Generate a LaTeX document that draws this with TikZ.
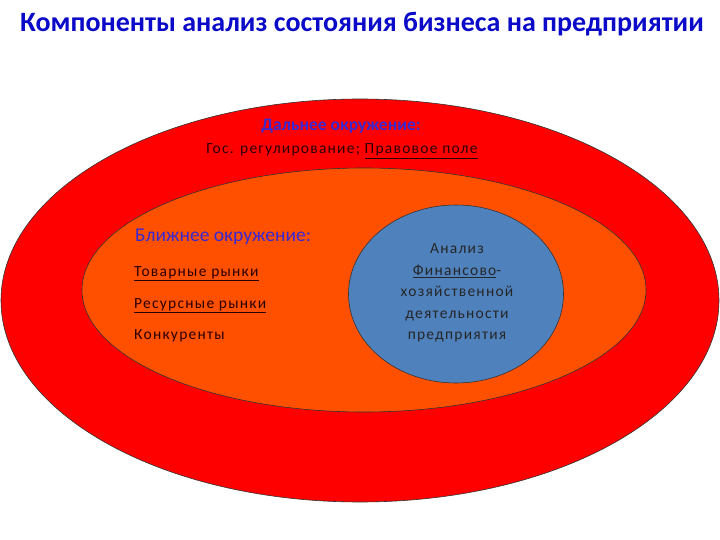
\documentclass[tikz,border=0pt]{standalone}
\usepackage{fontspec}
\setmainfont{Carlito}
\newfontfamily\spaced[LetterSpace=8]{Carlito}
\usetikzlibrary{shapes.geometric}
\definecolor{outerred}{HTML}{FF0000}
\definecolor{innerorange}{HTML}{FF5000}
\definecolor{coreblue}{HTML}{4F81BD}
\definecolor{titleblue}{HTML}{0A0AC8}
\definecolor{headblue}{HTML}{3A28D0}
\definecolor{darktext}{HTML}{2A0000}
\tikzset{
  ring/.style={ellipse, draw=black!80, line width=0.6pt, inner sep=0pt},
  lbl/.style={inner sep=0pt, text=darktext, font=\spaced\fontsize{15.5}{18}\selectfont},
  head/.style={inner sep=0pt, text=headblue, font=\fontsize{19.5}{23}\selectfont},
}
\begin{document}
\begin{tikzpicture}[x=1pt,y=-1pt]
\useasboundingbox (0,0) rectangle (720,540);
\node[inner sep=0pt, anchor=base, text=titleblue, font=\fontsize{28}{32}\selectfont\bfseries] (title) at (362,32) {Компоненты анализ состояния бизнеса на предприятии};
\node[ring, fill=outerred, minimum width=718pt, minimum height=403pt] (outer) at (360,300.5) {};
\node[ring, fill=innerorange, minimum width=564pt, minimum height=244pt] (inner) at (364,290) {};
\node[ring, fill=coreblue, minimum width=215pt, minimum height=178pt] (core) at (456,294) {};
\node[head, anchor=base, font=\fontsize{17.5}{21}\selectfont\bfseries] (far) at (341,131) {Дальнее окружение:};
\node[lbl, anchor=base] (farlist) at (342,154) {Гос. регулирование; \underline{Правовое поле}};
\node[head, anchor=base west] (near) at (135,241) {Ближнее окружение:};
\node[lbl, anchor=base west] (goods) at (134,276) {\underline{Товарные рынки}};
\node[lbl, anchor=base west] (res) at (134,308) {\underline{Ресурсные рынки}};
\node[lbl, anchor=base west] (comp) at (134,339) {Конкуренты};
\node[lbl, align=center, text=black!85, font=\spaced\fontsize{15.5}{21.5}\selectfont] (coretext) at (457,293) {Анализ\\\underline{Финансово}-\\хозяйственной\\деятельности\\предприятия};
\end{tikzpicture}
\end{document}
